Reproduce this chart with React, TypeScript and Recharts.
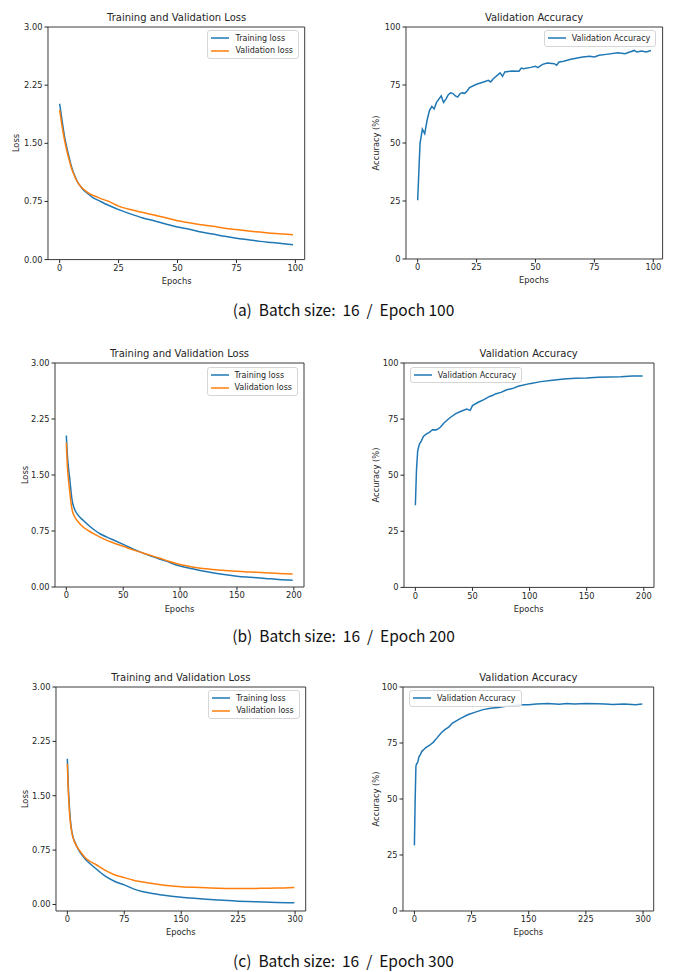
import { LineChart, Line, XAxis, YAxis, ReferenceArea } from 'recharts';

const BLUE = '#1f77b4';
const ORANGE = '#ff7f0e';
const INK = '#262626';
const FONT = '"DejaVu Sans", sans-serif';

// (a) batch 16 / epoch 100
const lossEpochsA = [0, 1, 2, 3, 4, 5, 6, 7, 8, 9, 10, 12, 14, 16, 18, 20, 25, 30, 35, 40, 45, 50, 55, 60, 65, 70, 75, 80, 85, 90, 95, 99];
const trainLossA = [2.01, 1.8, 1.6, 1.45, 1.32, 1.2, 1.11, 1.04, 0.98, 0.94, 0.9, 0.85, 0.8, 0.77, 0.74, 0.71, 0.645, 0.59, 0.54, 0.5, 0.46, 0.42, 0.39, 0.355, 0.33, 0.3, 0.275, 0.255, 0.235, 0.22, 0.205, 0.193];
const valLossA = [1.93, 1.72, 1.55, 1.41, 1.29, 1.18, 1.1, 1.03, 0.98, 0.94, 0.91, 0.865, 0.83, 0.805, 0.78, 0.76, 0.69, 0.645, 0.61, 0.575, 0.54, 0.5, 0.475, 0.45, 0.43, 0.405, 0.387, 0.37, 0.355, 0.34, 0.33, 0.322];

const accEpochsA = [0, 1, 2, 3, 4, 5, 6, 7, 8, 9, 10, 11, 12, 13, 14, 15, 16, 17, 18, 19, 20, 21, 22, 25, 28, 30, 31, 32, 35, 36, 37, 40, 43, 44, 45, 48, 50, 51, 53, 55, 58, 59, 60, 62, 65, 70, 73, 75, 77, 80, 85, 88, 90, 92, 93, 95, 97, 99];
const valAccA = [25.3, 49.7, 56, 54, 59.8, 64, 65.7, 64.7, 67.5, 68.9, 70.3, 67.5, 68.9, 70.8, 71.6, 71.3, 70.3, 69.8, 71.3, 71.6, 71.4, 72.4, 73.9, 75.3, 76.3, 77, 76.3, 77.6, 80.2, 78.7, 80.6, 81, 80.9, 82.3, 82, 82.6, 83.1, 82.5, 83.9, 84.5, 84.2, 83.5, 84.9, 85.2, 86.1, 87.1, 87.4, 87.1, 87.8, 88.2, 88.9, 88.5, 89.2, 89.9, 89.2, 89.7, 89.2, 89.9];

// (b) batch 16 / epoch 200
const lossEpochsB = [0, 1, 2, 3, 4, 5, 7, 10, 15, 20, 25, 30, 40, 50, 60, 75, 87, 100, 112, 125, 137, 150, 162, 175, 187, 199];
const trainLossB = [2.03, 1.75, 1.58, 1.45, 1.3, 1.17, 1.05, 0.97, 0.89, 0.82, 0.76, 0.71, 0.64, 0.57, 0.5, 0.41, 0.35, 0.28, 0.24, 0.2, 0.17, 0.145, 0.13, 0.115, 0.1, 0.09];
const valLossB = [1.93, 1.6, 1.42, 1.28, 1.14, 1.04, 0.95, 0.88, 0.8, 0.75, 0.705, 0.665, 0.6, 0.545, 0.49, 0.42, 0.36, 0.3, 0.265, 0.24, 0.225, 0.21, 0.2, 0.19, 0.18, 0.175];

const accEpochsB = [0, 1, 2, 3, 4, 5, 7, 10, 12, 15, 18, 20, 22, 25, 30, 35, 40, 45, 48, 50, 55, 60, 65, 68, 70, 75, 80, 85, 90, 100, 110, 120, 130, 140, 150, 160, 170, 180, 190, 199];
const valAccB = [36.6, 52.5, 60.6, 62.9, 64.3, 65, 67.3, 68.5, 69, 70.3, 70.2, 70.6, 71.5, 73.3, 75.5, 77.3, 78.5, 79.5, 78.9, 81, 82.5, 83.7, 85.1, 85.6, 86.2, 86.9, 88.1, 88.6, 89.6, 90.8, 91.7, 92.3, 92.9, 93.2, 93.3, 93.6, 93.8, 93.9, 94.2, 94.2];

// (c) batch 16 / epoch 300
const lossEpochsC = [0, 1, 2, 3, 4, 5, 7, 10, 15, 20, 25, 37, 50, 62, 75, 87, 100, 112, 125, 150, 175, 200, 225, 250, 275, 299];
const trainLossC = [2.01, 1.7, 1.48, 1.3, 1.17, 1.07, 0.95, 0.86, 0.75, 0.67, 0.61, 0.5, 0.39, 0.32, 0.27, 0.215, 0.175, 0.15, 0.13, 0.1, 0.08, 0.06, 0.046, 0.036, 0.028, 0.023];
const valLossC = [1.94, 1.62, 1.42, 1.25, 1.13, 1.05, 0.94, 0.85, 0.76, 0.69, 0.63, 0.555, 0.47, 0.41, 0.37, 0.335, 0.31, 0.29, 0.27, 0.245, 0.235, 0.225, 0.22, 0.222, 0.226, 0.235];

const accEpochsC = [0, 1, 2, 3, 4, 5, 6, 8, 10, 12, 15, 20, 25, 30, 35, 40, 45, 50, 60, 70, 80, 90, 100, 110, 120, 130, 140, 150, 160, 175, 190, 200, 210, 225, 240, 250, 260, 275, 290, 299];
const valAccC = [29.3, 49.4, 64.6, 65.8, 66.1, 67.3, 68.8, 69.9, 71.4, 72, 72.9, 74, 75.4, 77.4, 79.5, 81, 82.1, 83.9, 85.9, 87.6, 88.8, 89.9, 90.5, 90.9, 91.4, 91.7, 92.1, 92.1, 92.4, 92.6, 92.3, 92.6, 92.4, 92.6, 92.5, 92.4, 92.2, 92.4, 92.1, 92.4];

const lossTicks = [0, 0.75, 1.5, 2.25, 3];
const accTicks = [0, 25, 50, 75, 100];
const xTicksA = [0, 25, 50, 75, 100];
const xTicksB = [0, 50, 100, 150, 200];
const xTicksC = [0, 75, 150, 225, 300];

const captions = [
  '(a)  Batch size:  16  /  Epoch 100',
  '(b)  Batch size:  16  /  Epoch 200',
  '(c)  Batch size:  16  /  Epoch 300',
];

const zip = (xs: number[], ...cols: [string, number[]][]) =>
  xs.map((x, i) => {
    const row: Record<string, number> = { epoch: x };
    cols.forEach(([k, v]) => (row[k] = v[i]));
    return row;
  });

type Box = { left: number; top: number; right: number; bottom: number };
type Series = { key: string; name: string; color: string; curve: 'monotone' | 'linear' };

const YW = 45;
const MT = 15;
const XH = 35;

function LegendBox({ items, side }: { items: Series[]; side: 'left' | 'right' }) {
  const pos: React.CSSProperties = side === 'right' ? { right: 10 + 6 } : { left: YW + 6 };
  return (
    <div
      style={{
        position: 'absolute',
        top: MT + 3.5,
        ...pos,
        border: '1px solid #d6d6d6',
        borderRadius: 3,
        background: 'rgba(255,255,255,0.85)',
        padding: '1px 5px 1px 3px',
        fontFamily: FONT,
        fontSize: 8,
        color: INK,
      }}
    >
      {items.map((s) => (
        <div key={s.key} style={{ display: 'flex', alignItems: 'center', height: 12.5 }}>
          <svg width={18} height={4} style={{ marginRight: 6 }}>
            <line x1={0} y1={2} x2={18} y2={2} stroke={s.color} strokeWidth={1.5} />
          </svg>
          <span style={{ whiteSpace: 'nowrap' }}>{s.name}</span>
        </div>
      ))}
    </div>
  );
}

function Panel(props: {
  box: Box;
  data: Record<string, number>[];
  xDomain: [number, number];
  xTicks: number[];
  yDomain: [number, number];
  yTicks: number[];
  yDigits: number;
  series: Series[];
  title: string;
  yLabel: string;
  yLabelOffset: number;
  legendSide: 'left' | 'right';
}) {
  const { box, data, xDomain, xTicks, yDomain, yTicks, yDigits, series, title, yLabel, yLabelOffset, legendSide } = props;
  const plotW = box.right - box.left;
  const plotH = box.bottom - box.top;
  const W = YW + plotW + 10;
  const H = MT + plotH + XH;
  const tick = { fontSize: 8.3, fill: INK, fontFamily: FONT };

  return (
    <div style={{ position: 'absolute', left: box.left - YW, top: box.top - MT, width: W, height: H }}>
      <LineChart width={W} height={H} data={data} margin={{ top: MT, right: 10, left: 0, bottom: 0 }}>
        <XAxis
          type="number"
          dataKey="epoch"
          domain={xDomain}
          ticks={xTicks}
          allowDataOverflow
          axisLine={false}
          tickSize={3.5}
          tickLine={{ stroke: INK }}
          tickMargin={2}
          tick={tick}
          height={XH}
        />
        <YAxis
          type="number"
          domain={yDomain}
          ticks={yTicks}
          allowDataOverflow
          axisLine={false}
          tickSize={3.5}
          tickLine={{ stroke: INK }}
          tickMargin={2}
          tick={tick}
          tickFormatter={(v: number) => v.toFixed(yDigits)}
          width={YW}
        />
        {series.map((s) => (
          <Line
            key={s.key}
            type={s.curve}
            dataKey={s.key}
            name={s.name}
            stroke={s.color}
            strokeWidth={1.5}
            dot={false}
            isAnimationActive={false}
          />
        ))}
        <ReferenceArea
          x1={xDomain[0]}
          x2={xDomain[1]}
          y1={yDomain[0]}
          y2={yDomain[1]}
          fill="none"
          stroke="#3a3a3a"
          strokeWidth={1}
          fillOpacity={0}
          ifOverflow="visible"
        />
      </LineChart>
      <div
        style={{
          position: 'absolute',
          left: YW,
          width: plotW,
          top: MT - 9 - 6,
          lineHeight: '12px',
          textAlign: 'center',
          fontFamily: FONT,
          fontSize: 10,
          color: INK,
          whiteSpace: 'nowrap',
        }}
      >
        {title}
      </div>
      <div
        style={{
          position: 'absolute',
          left: YW,
          width: plotW,
          top: MT + plotH + 21.5 - 5,
          lineHeight: '10px',
          textAlign: 'center',
          fontFamily: FONT,
          fontSize: 8.3,
          color: INK,
        }}
      >
        Epochs
      </div>
      <div
        style={{
          position: 'absolute',
          left: YW + yLabelOffset - 50,
          width: 100,
          top: MT + plotH / 2 - 5,
          lineHeight: '10px',
          textAlign: 'center',
          fontFamily: FONT,
          fontSize: 8.3,
          color: INK,
          transform: 'rotate(-90deg)',
          whiteSpace: 'nowrap',
        }}
      >
        {yLabel}
      </div>
      <LegendBox items={series} side={legendSide} />
    </div>
  );
}

const lossSeries: Series[] = [
  { key: 'train', name: 'Training loss', color: BLUE, curve: 'monotone' },
  { key: 'val', name: 'Validation loss', color: ORANGE, curve: 'monotone' },
];
const accSeries: Series[] = [{ key: 'acc', name: 'Validation Accuracy', color: BLUE, curve: 'linear' }];

export default function App() {
  const lossA = zip(lossEpochsA, ['train', trainLossA], ['val', valLossA]);
  const lossB = zip(lossEpochsB, ['train', trainLossB], ['val', valLossB]);
  const lossC = zip(lossEpochsC, ['train', trainLossC], ['val', valLossC]);
  const accA = zip(accEpochsA, ['acc', valAccA]);
  const accB = zip(accEpochsB, ['acc', valAccB]);
  const accC = zip(accEpochsC, ['acc', valAccC]);

  const captionStyle = (y: number): React.CSSProperties => ({
    position: 'absolute',
    left: 0,
    width: 687,
    top: y - 11,
    lineHeight: '22px',
    textAlign: 'center',
    fontFamily: '"Noto Sans CJK KR", "Noto Sans", sans-serif',
    fontSize: 15.5,
    color: '#111',
    whiteSpace: 'pre',
  });

  return (
    <div style={{ position: 'absolute', left: 0, top: 0, width: 687, height: 972, background: '#fff', overflow: 'hidden' }}>
      <Panel
        box={{ left: 48.3, top: 26.7, right: 305, bottom: 259.3 }}
        data={lossA}
        xDomain={[-4.95, 103.95]}
        xTicks={xTicksA}
        yDomain={[0, 3]}
        yTicks={lossTicks}
        yDigits={2}
        series={lossSeries}
        title="Training and Validation Loss"
        yLabel="Loss"
        yLabelOffset={-32}
        legendSide="right"
      />
      <Panel
        box={{ left: 405.7, top: 26.7, right: 662.3, bottom: 258.7 }}
        data={accA}
        xDomain={[-4.95, 103.95]}
        xTicks={xTicksA}
        yDomain={[0, 100]}
        yTicks={accTicks}
        yDigits={0}
        series={accSeries}
        title="Validation Accuracy"
        yLabel="Accuracy (%)"
        yLabelOffset={-30}
        legendSide="right"
      />
      <div style={captionStyle(309)}>{captions[0]}</div>

      <Panel
        box={{ left: 55, top: 363.3, right: 304, bottom: 587.3 }}
        data={lossB}
        xDomain={[-9.95, 208.95]}
        xTicks={xTicksB}
        yDomain={[0, 3]}
        yTicks={lossTicks}
        yDigits={2}
        series={lossSeries}
        title="Training and Validation Loss"
        yLabel="Loss"
        yLabelOffset={-30}
        legendSide="right"
      />
      <Panel
        box={{ left: 403.7, top: 363.3, right: 653.7, bottom: 587.7 }}
        data={accB}
        xDomain={[-9.95, 208.95]}
        xTicks={xTicksB}
        yDomain={[0, 100]}
        yTicks={accTicks}
        yDigits={0}
        series={accSeries}
        title="Validation Accuracy"
        yLabel="Accuracy (%)"
        yLabelOffset={-27.5}
        legendSide="left"
      />
      <div style={captionStyle(635)}>{captions[1]}</div>

      <Panel
        box={{ left: 56, top: 686.7, right: 305.7, bottom: 910.7 }}
        data={lossC}
        xDomain={[-14.95, 313.95]}
        xTicks={xTicksC}
        yDomain={[-0.09, 3]}
        yTicks={lossTicks}
        yDigits={2}
        series={lossSeries}
        title="Training and Validation Loss"
        yLabel="Loss"
        yLabelOffset={-31}
        legendSide="right"
      />
      <Panel
        box={{ left: 403, top: 686.7, right: 653.7, bottom: 910.7 }}
        data={accC}
        xDomain={[-14.95, 313.95]}
        xTicks={xTicksC}
        yDomain={[0, 100]}
        yTicks={accTicks}
        yDigits={0}
        series={accSeries}
        title="Validation Accuracy"
        yLabel="Accuracy (%)"
        yLabelOffset={-27}
        legendSide="left"
      />
      <div style={captionStyle(960)}>{captions[2]}</div>
    </div>
  );
}
